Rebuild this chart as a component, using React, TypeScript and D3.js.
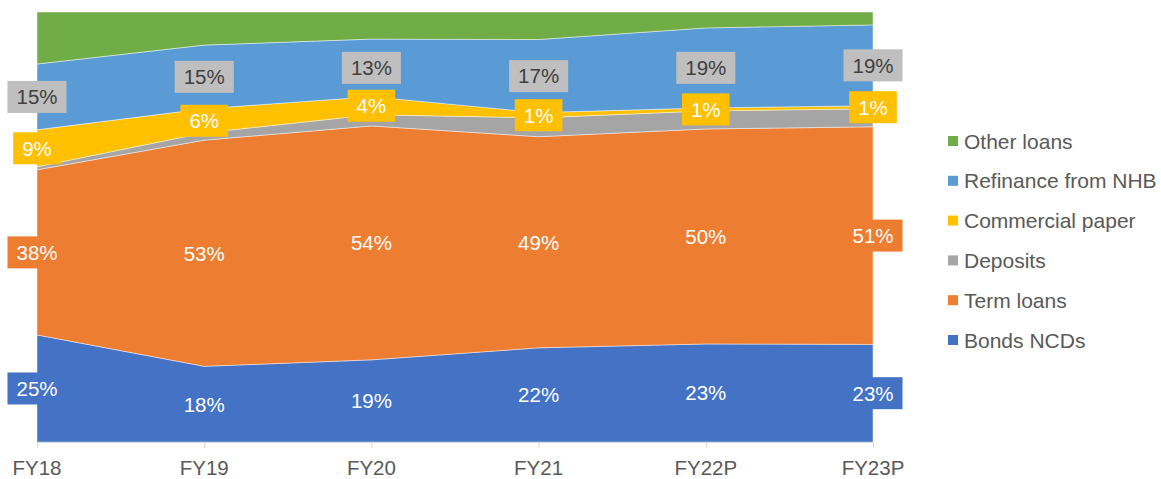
import React from 'react';
import * as d3 from 'd3';

const years = ['FY18', 'FY19', 'FY20', 'FY21', 'FY22P', 'FY23P'];
// percent shares (bottom to top)
const bondsNcds = [24.9, 17.6, 19.1, 21.9, 22.8, 22.7];
const termLoans = [38.4, 52.6, 54.4, 49.1, 50.0, 50.6];
const deposits = [0.7, 1.7, 2.6, 4.4, 4.2, 4.2];
const commercialPaper = [8.6, 5.6, 4.2, 1.2, 0.7, 0.7];
const refinanceNhb = [15.3, 14.8, 13.4, 17.0, 18.6, 18.8];
const otherLoans = [12.1, 7.7, 6.3, 6.4, 3.7, 3.0];

const series = [
  { key: 'bonds', name: 'Bonds NCDs', values: bondsNcds, color: '#4472C4', label: true },
  { key: 'term', name: 'Term loans', values: termLoans, color: '#ED7D31', label: true },
  { key: 'deposits', name: 'Deposits', values: deposits, color: '#A5A5A5', label: false },
  { key: 'cp', name: 'Commercial paper', values: commercialPaper, color: '#FFC000', label: true },
  { key: 'refi', name: 'Refinance from NHB', values: refinanceNhb, color: '#5B9BD5', label: true, boxFill: '#BFBFBF', textFill: '#404040' },
  { key: 'other', name: 'Other loans', values: otherLoans, color: '#70AD47', label: false },
];

const W = 1161;
const H = 479;
const FONT = '"Liberation Sans", Arial, sans-serif';
const FS = 20.5;
const LEG_FS = 21;

const App = () => {
  const x = d3.scalePoint<string>().domain(years).range([37, 873]);
  const y = d3.scaleLinear().domain([0, 100]).range([442, 12]);

  const rows = years.map((yr, i) => {
    const r: any = { year: yr };
    series.forEach(s => { r[s.key] = s.values[i]; });
    return r;
  });
  const stacked = d3.stack().keys(series.map(s => s.key))(rows);

  const area = d3.area<any>()
    .x(d => x(d.data.year) as number)
    .y0(d => y(d[0]))
    .y1(d => y(d[1]));

  const textW = (t: string) => {
    let w = 0;
    for (const c of t) w += c === '%' ? 0.889 : 0.556;
    return w * FS;
  };

  const legendItems = [...series].reverse();

  return (
    <svg width={W} height={H} style={{ position: 'absolute', left: 0, top: 0, background: '#fff' }} fontFamily={FONT}>
      <g>
        {stacked.map((layer, li) => (
          <path key={series[li].key} d={area(layer as any) || ''} fill={series[li].color}
            stroke="#ffffff" strokeOpacity={0.6} strokeWidth={0.75} />
        ))}
      </g>
      {/* category axis */}
      <line x1={37} x2={873} y1={442.5} y2={442.5} stroke="#D9D9D9" strokeWidth={1} />
      {years.map(yr => (
        <g key={yr}>
          <line x1={(x(yr) as number) + 0.5} x2={(x(yr) as number) + 0.5} y1={442} y2={448} stroke="#D9D9D9" />
          <text x={x(yr)} y={475} textAnchor="middle" fontSize={FS} fill="#595959">{yr}</text>
        </g>
      ))}
      {/* data labels */}
      {stacked.map((layer, li) => {
        const s: any = series[li];
        if (!s.label) return null;
        return (
          <g key={s.key + '-lbl'}>
            {layer.map((d: any, i) => {
              const t = `${Math.round(s.values[i])}%`;
              const cx = x(d.data.year) as number;
              const cy = (y(d[0]) + y(d[1])) / 2;
              const bw = textW(t) + 18;
              const bh = 32;
              return (
                <g key={i}>
                  <rect x={cx - bw / 2} y={cy - bh / 2} width={bw} height={bh} fill={s.boxFill || s.color} />
                  <text x={cx} y={cy} dy="0.36em" textAnchor="middle" fontSize={FS} fill={s.textFill || '#ffffff'}>{t}</text>
                </g>
              );
            })}
          </g>
        );
      })}
      {/* legend */}
      {legendItems.map((s, i) => {
        const cy = 141 + i * 39.8;
        return (
          <g key={s.key + '-leg'}>
            <rect x={948} y={cy - 5} width={10} height={10} fill={s.color} />
            <text x={964} y={cy} dy="0.36em" fontSize={LEG_FS} fill="#595959">{s.name}</text>
          </g>
        );
      })}
    </svg>
  );
};

export default App;
